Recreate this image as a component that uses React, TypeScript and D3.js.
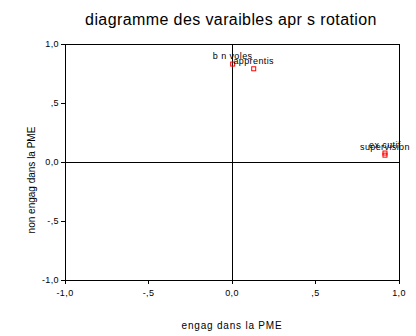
import React from "react";
import * as d3 from "d3";

const pointLabels = ["b n voles", "apprentis", "ex cutif", "supervision"];
const xValues = [0.004, 0.13, 0.916, 0.916];
const yValues = [0.83, 0.79, 0.076, 0.058];
const tickValues = [-1, -0.5, 0, 0.5, 1];
const tickLabels = ["-1,0", "-,5", "0,0", ",5", "1,0"];
const title = "diagramme des varaibles apr s rotation";
const xTitle = "engag  dans la PME";
const yTitle = "non engag  dans la PME";

export default function App() {
  const W = 416, H = 336;
  const x = d3.scaleLinear().domain([-1, 1]).range([65, 399]);
  const y = d3.scaleLinear().domain([-1, 1]).range([280, 44]);
  const font = "'Liberation Sans', Arial, Helvetica, sans-serif";
  return (
    <svg width={W} height={H} style={{ position: "absolute", left: 0, top: 0, background: "#fff" }} fontFamily={font}>
      <rect x={0} y={0} width={W} height={H} fill="#fff" />
      <text x={231} y={25} textAnchor="middle" fontSize={16} letterSpacing={0.4} fill="#000">{title}</text>
      <rect x={x(-1)} y={y(1)} width={x(1) - x(-1)} height={y(-1) - y(1)} fill="none" stroke="#000" strokeWidth={1} shapeRendering="crispEdges" />
      <line x1={x(0)} x2={x(0)} y1={y(1)} y2={y(-1)} stroke="#000" shapeRendering="crispEdges" />
      <line x1={x(-1)} x2={x(1)} y1={y(0)} y2={y(0)} stroke="#000" shapeRendering="crispEdges" />
      {tickValues.map((v, i) => (
        <g key={"y" + i}>
          <line x1={x(-1) - 4} x2={x(-1)} y1={y(v)} y2={y(v)} stroke="#000" shapeRendering="crispEdges" />
          <text x={x(-1) - 6} y={y(v) + 3} textAnchor="end" fontSize={9} letterSpacing={0.4} fill="#000">{tickLabels[i]}</text>
        </g>
      ))}
      {tickValues.map((v, i) => (
        <g key={"x" + i}>
          <line x1={x(v)} x2={x(v)} y1={y(-1)} y2={y(-1) + 4} stroke="#000" shapeRendering="crispEdges" />
          <text x={x(v)} y={y(-1) + 16} textAnchor="middle" fontSize={9} letterSpacing={0.4} fill="#000">{tickLabels[i]}</text>
        </g>
      ))}
      <text x={232} y={329} textAnchor="middle" fontSize={10} letterSpacing={0.8} fill="#000">{xTitle}</text>
      <text transform={`translate(35,180) rotate(-90)`} textAnchor="middle" fontSize={10} fill="#000">{yTitle}</text>
      {pointLabels.map((lab, i) => (
        <g key={"p" + i}>
          <rect x={x(xValues[i]) - 2} y={y(yValues[i]) - 2} width={4} height={4} fill="none" stroke="#ff0000" strokeWidth={1} />
          <text x={x(xValues[i])} y={y(yValues[i]) - 5} textAnchor="middle" fontSize={9} letterSpacing={0.4} fill="#000">{lab}</text>
        </g>
      ))}
    </svg>
  );
}
